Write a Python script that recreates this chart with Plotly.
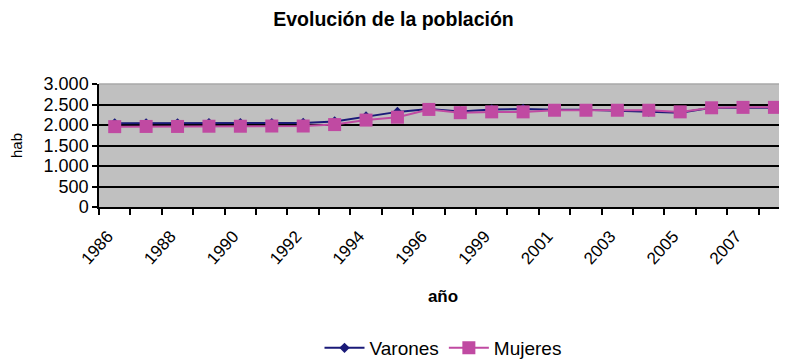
import plotly.graph_objects as go

years = ["1986", "1987", "1988", "1989", "1990", "1991", "1992", "1993", "1994", "1995",
         "1996", "1998", "1999", "2000", "2001", "2002", "2003", "2004", "2005", "2006",
         "2007", "2008"]
varones = [2040, 2040, 2040, 2045, 2045, 2045, 2050, 2085, 2210, 2320, 2390, 2330,
           2380, 2390, 2370, 2370, 2350, 2330, 2300, 2420, 2420, 2420]
mujeres = [1960, 1965, 1965, 1970, 1970, 1975, 1975, 2010, 2120, 2190, 2380, 2300,
           2320, 2320, 2360, 2360, 2360, 2360, 2320, 2420, 2430, 2430]
y_ticks = [0, 500, 1000, 1500, 2000, 2500, 3000]
y_labels = ["0", "500", "1.000", "1.500", "2.000", "2.500", "3.000"]

idx = list(range(len(years)))
label_idx = idx[::2]
label_txt = [years[i] for i in label_idx]

FONT = "Liberation Sans, Arial, sans-serif"

# page body has an 8px margin: the figure is drawn from (8, 8) of the window
W, H = 779, 352
TOP, BOTTOM, LEFT = 84 - 8, 207 - 8, 99 - 8
PH = BOTTOM - TOP

fig = go.Figure()
fig.add_trace(go.Scatter(x=idx, y=varones, name="Varones", mode="lines+markers",
                         line=dict(color="#1a1a78", width=2),
                         marker=dict(symbol="diamond", size=8, color="#1a1a78")))
fig.add_trace(go.Scatter(x=idx, y=mujeres, name="Mujeres", mode="lines+markers",
                         line=dict(color="#C04AA2", width=2),
                         marker=dict(symbol="square", size=13, color="#C04AA2")))

fig.update_layout(
    width=W, height=H,
    margin=dict(l=LEFT, r=0, t=TOP, b=H - BOTTOM, autoexpand=False),
    paper_bgcolor="white", plot_bgcolor="#C0C0C0",
    font=dict(family=FONT, size=17, color="black"),
    title=dict(text="<b>Evolución de la población</b>", x=(393.5 - 8) / W, xref="container",
               xanchor="center",
               y=1 - 11 / H, yanchor="middle", font=dict(size=19.5, family=FONT)),
    showlegend=True,
    legend=dict(orientation="h", x=0.5, xanchor="center",
                y=(BOTTOM - (348 - 8)) / PH, yanchor="middle",
                font=dict(size=19, family=FONT), bgcolor="rgba(0,0,0,0)",
                itemwidth=40, tracegroupgap=0),
    xaxis=dict(range=[-0.5, 21.4], tickmode="array", tickvals=label_idx, ticktext=label_txt,
               tickangle=-48, ticks="", showgrid=False, zeroline=False, automargin=False,
               ticklabelstandoff=11, ticklabelshift=-7,
               showline=True, linecolor="black", linewidth=1.5,
               tickfont=dict(size=17),
               minor=dict(tick0=-0.5, dtick=1, ticks="outside", ticklen=6,
                          tickcolor="black", tickwidth=1.5, showgrid=False),
               title=dict(text="<b>año</b>", standoff=23, font=dict(size=17))),
    yaxis=dict(range=[0, 3000], tickmode="array", tickvals=y_ticks, ticktext=y_labels,
               ticks="outside", ticklen=5, tickcolor="black", tickwidth=1.5,
               showgrid=True, gridcolor="black", gridwidth=1.5, zeroline=False,
               automargin=False,
               showline=True, linecolor="black", linewidth=1.5,
               tickfont=dict(size=18),
               title=dict(text="hab", standoff=20, font=dict(size=15))),
    shapes=[dict(type="line", xref="paper", yref="paper", x0=0, x1=1, y0=1, y1=1,
                 line=dict(color="#A8A8A8", width=1.5), layer="above")],
)

fig.write_html("out.html")
